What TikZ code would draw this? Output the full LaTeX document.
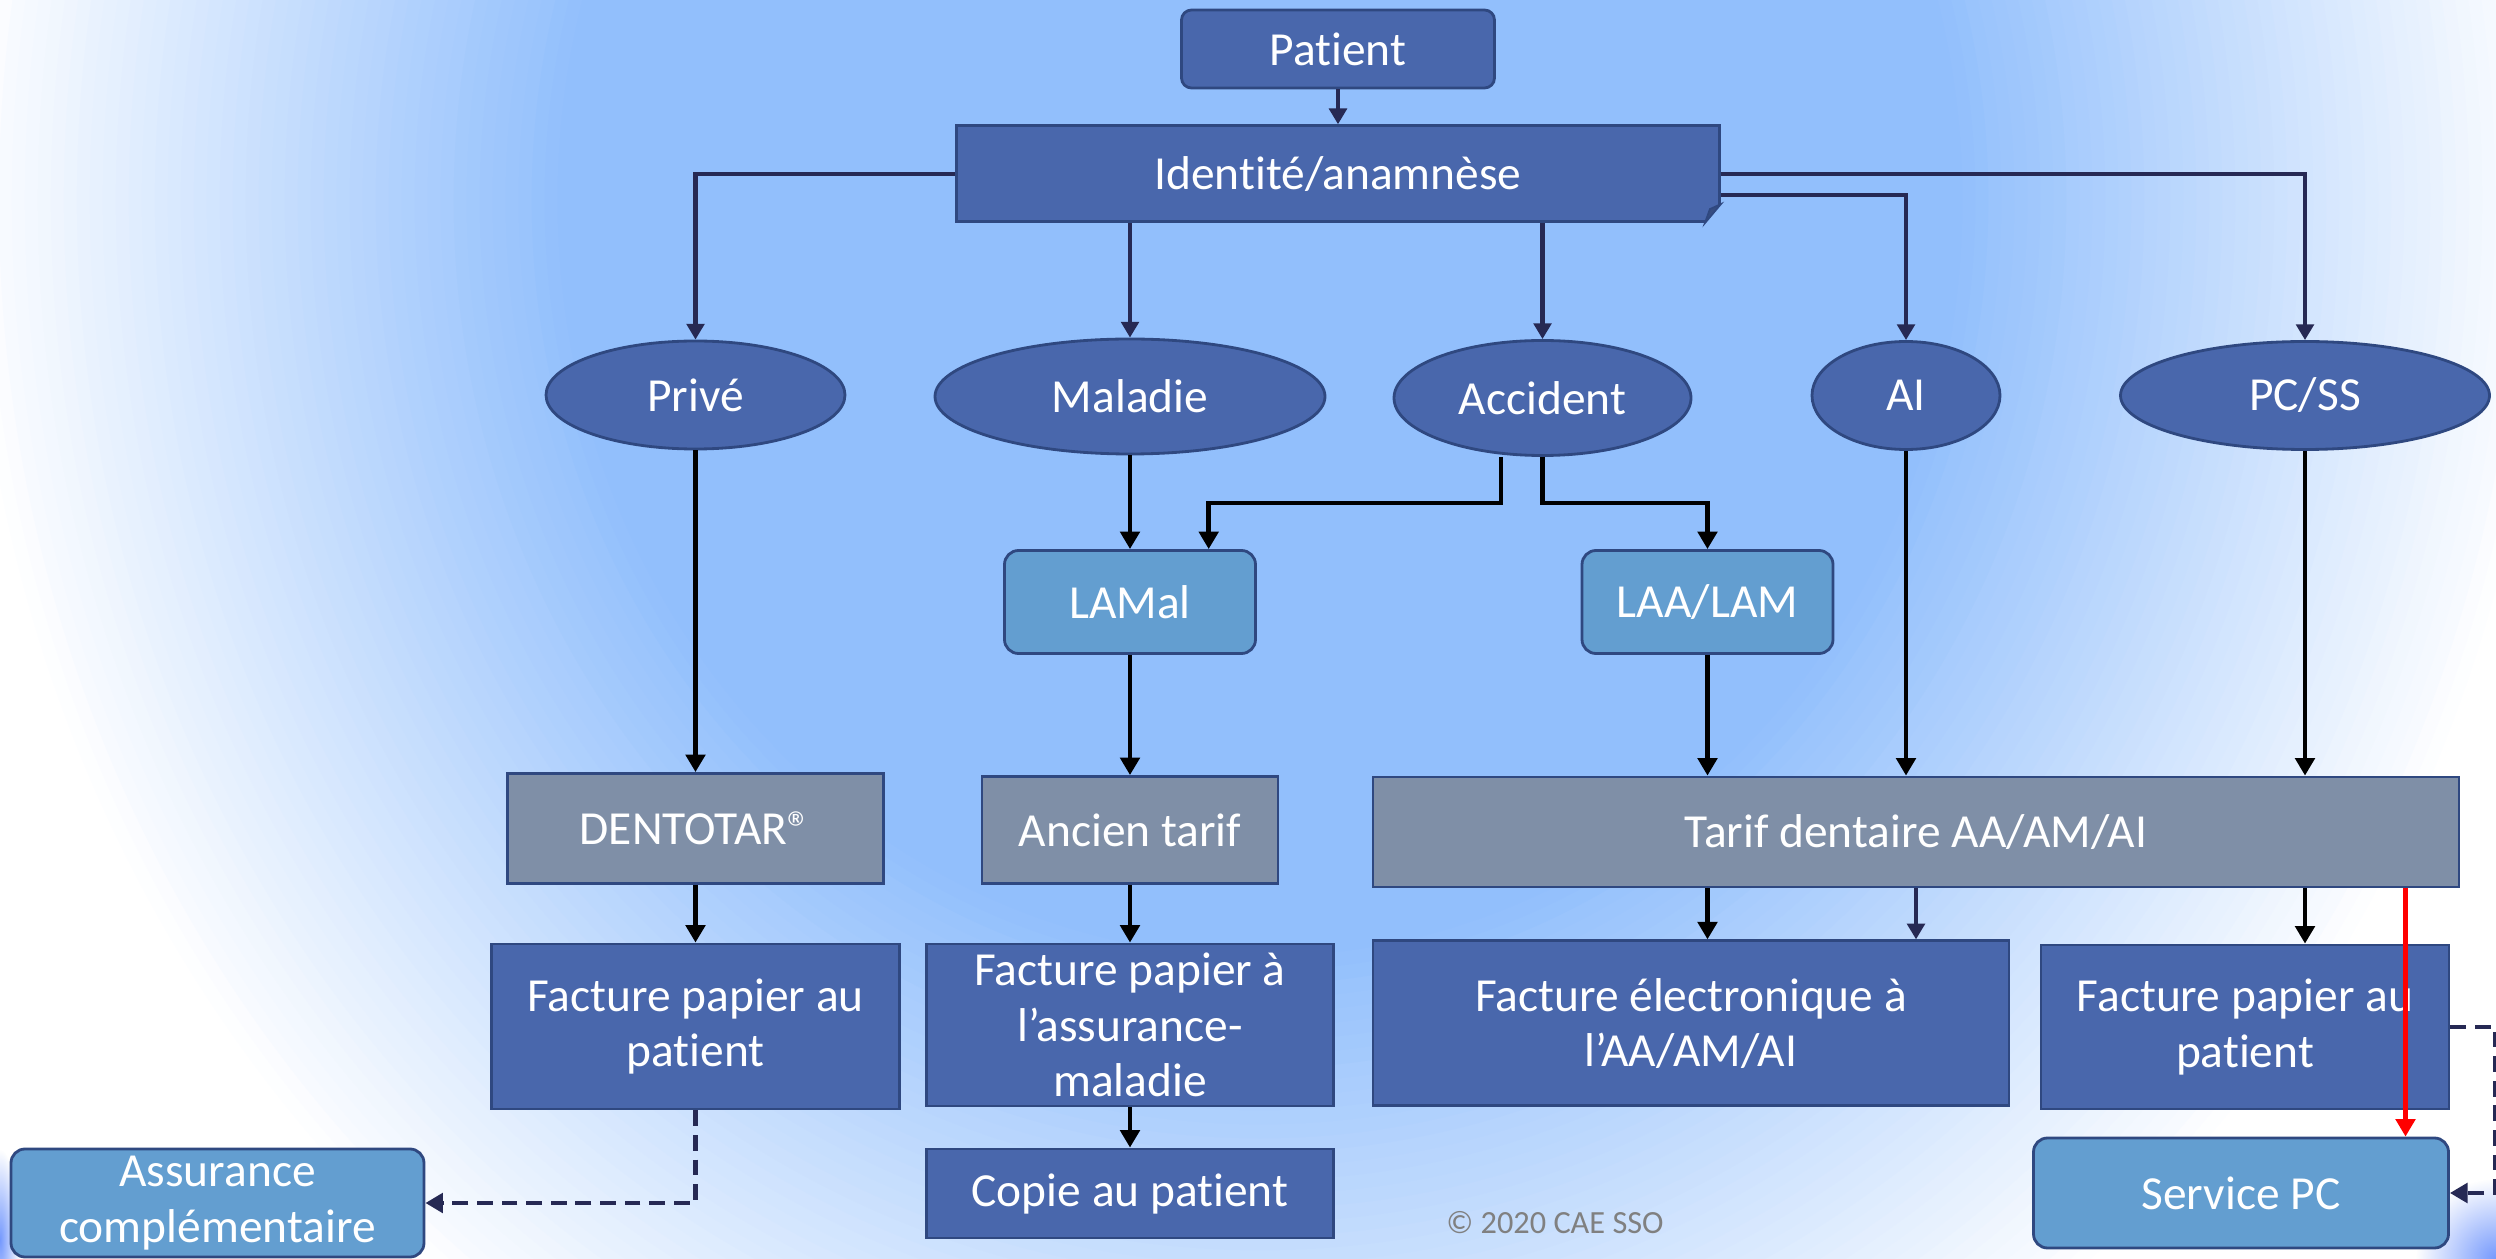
\documentclass[tikz,border=0pt]{standalone}
\usepackage{fontspec}
\setmainfont{Carlito}[Ligatures=NoCommon]
\usetikzlibrary{shapes.geometric,arrows.meta,fadings}

\definecolor{bgblue}{RGB}{146,191,252}
\definecolor{boxblue}{RGB}{73,103,172}
\definecolor{boxedge}{RGB}{47,72,128}
\definecolor{lawblue}{RGB}{99,158,208}
\definecolor{tarifgray}{RGB}{127,143,167}
\definecolor{navy}{RGB}{38,41,84}

\tikzfading[name=glowfade, inner color=transparent!0, outer color=transparent!100]

\tikzset{
  card/.style={draw=boxedge, line width=0.8pt, text=white, align=center,
    inner sep=0pt, font=\fontsize{13.5}{15.8}\selectfont},
  darkbox/.style={card, fill=boxblue},
  lawbox/.style={card, fill=lawblue, rounded corners=0.14cm},
  tarifbox/.style={card, fill=tarifgray},
  oval/.style={card, fill=boxblue, ellipse},
  navyarrow/.style={navy, line width=1.2pt, -{Triangle[width=5pt,length=4.5pt]}},
  blackarrow/.style={black, line width=1.4pt, -{Triangle[width=5.5pt,length=5pt]}},
  redarrow/.style={red, line width=1.4pt, -{Triangle[width=5.5pt,length=5pt]}},
  dasharrow/.style={navy, line width=1.4pt, dash pattern=on 4.5pt off 2.5pt, -{Triangle[width=5.5pt,length=5pt]}},
}

\begin{document}
\begin{tikzpicture}
  \useasboundingbox (0,0) rectangle (24.96,-12.59);
  % the background, white at the rim and blue in the middle
  \begin{scope}
    \clip (0,0) rectangle (24.96,-12.59);
    \fill[white] (0,0) rectangle (24.96,-12.59);
    \foreach \i in {0,...,46} {
      \pgfmathsetmacro{\f}{1-0.01*\i}
      \pgfmathtruncatemacro{\t}{round(100*\i/46)}
      \fill[bgblue!\t!white] (12.6,-2.0) ellipse [x radius=13*\f, y radius=14*\f];
    }
    \fill[bgblue!80!blue, path fading=glowfade] (24.96,-12.59) circle (0.8);
    \fill[bgblue!80!blue, path fading=glowfade] (0,-12.4) ellipse (0.2 and 0.9);
  \end{scope}

  % patient and anamnesis
  \node[darkbox, rounded corners=0.1cm, minimum width=3.13cm, minimum height=0.78cm] (patient) at (13.38,-0.49) {Patient};
  \node[darkbox, minimum width=7.63cm, minimum height=0.96cm] (ident) at (13.38,-1.737) {Identité/anamnèse};
  % the folded corner of the anamnesis box
  \fill[bgblue] (ident.south east) -- ++(-0.16,0) -- ++(0.16,0.19) -- cycle;
  \filldraw[fill=boxblue!75!black, draw=boxedge, line width=0.5pt] ([xshift=-0.16cm]ident.south east) -- ++(0.05,0.14) -- ++(0.11,0.05) -- cycle;

  % the five cases
  \node[oval, minimum width=2.99cm, minimum height=1.08cm] (prive) at (6.955,-3.95) {Privé};
  \node[oval, minimum width=3.90cm, minimum height=1.15cm] (maladie) at (11.30,-3.965) {Maladie};
  \node[oval, minimum width=2.97cm, minimum height=1.15cm] (accident) at (15.425,-3.98) {Accident};
  \node[oval, minimum width=1.88cm, minimum height=1.08cm] (ai) at (19.06,-3.955) {AI};
  \node[oval, minimum width=3.69cm, minimum height=1.08cm] (pcss) at (23.05,-3.955) {PC/SS};

  % the laws
  \node[lawbox, minimum width=2.51cm, minimum height=1.03cm] (lamal) at (11.30,-6.02) {LAMal};
  \node[lawbox, minimum width=2.51cm, minimum height=1.03cm] (laa) at (17.075,-6.02) {LAA/LAM};

  % the tariffs
  \node[tarifbox, minimum width=3.76cm, minimum height=1.10cm] (dentotar) at (6.955,-8.285) {DENTOTAR®};
  \node[tarifbox, minimum width=2.96cm, minimum height=1.07cm] (ancien) at (11.30,-8.30) {Ancien tarif};
  \node[tarifbox, minimum width=10.86cm, minimum height=1.10cm] (tarif) at (19.16,-8.32) {Tarif dentaire AA/AM/AI};

  % the invoices
  \node[darkbox, minimum width=4.08cm, minimum height=1.65cm] (facpl) at (6.955,-10.265) {Facture papier au\\patient};
  \node[darkbox, minimum width=4.07cm, minimum height=1.62cm] (facam) at (11.30,-10.25) {Facture papier à\\l’assurance-\\maladie};
  \node[darkbox, minimum width=6.36cm, minimum height=1.65cm] (facel) at (16.91,-10.233) {Facture électronique à\\l’AA/AM/AI};
  \node[darkbox, minimum width=4.08cm, minimum height=1.64cm] (facpr) at (22.45,-10.27) {Facture papier au\\patient};

  % the receivers
  \node[lawbox, minimum width=4.13cm, minimum height=1.08cm] (assur) at (2.175,-12.03) {Assurance\\complémentaire};
  \node[darkbox, minimum width=4.07cm, minimum height=0.89cm] (copie) at (11.30,-11.935) {Copie au patient};
  \node[lawbox, minimum width=4.15cm, minimum height=1.10cm] (servpc) at (22.41,-11.93) {Service PC};
  \node[text=gray, font=\fontsize{9.2}{11}\selectfont] (copyright) at (15.55,-12.23) {© 2020 CAE SSO};

  % helper points for the bends
  \coordinate (split) at (0,-5.03);
  \coordinate (redx) at (24.055,0);
  \coordinate (rim) at (24.95,0);

  % from the patient to the five cases
  \draw[navyarrow] (patient) -- (ident);
  \draw[navyarrow] (ident.west) -| (prive.north);
  \draw[navyarrow] (ident.south -| maladie.north) -- (maladie.north);
  \draw[navyarrow] (ident.south -| accident.north) -- (accident.north);
  \draw[navyarrow] ([yshift=-0.21cm]ident.east) -| (ai.north);
  \draw[navyarrow] (ident.east) -| (pcss.north);

  % straight black arrows
  \foreach \from/\to in {prive/dentotar, maladie/lamal, lamal/ancien, dentotar/facpl, ancien/facam, facam/copie}
    \draw[blackarrow] (\from) -- (\to);

  % accident splits into both laws
  \draw[blackarrow] ([xshift=-0.415cm]accident.south) -- ([xshift=-0.415cm]accident.south |- split) -| ([xshift=0.787cm]lamal.north);
  \draw[blackarrow] (accident.south) -- (accident.south |- split) -| (laa.north);

  % into the big tariff
  \draw[blackarrow] (laa) -- (laa |- tarif.north);
  \draw[blackarrow] (ai) -- (ai |- tarif.north);
  \draw[blackarrow] (pcss) -- (pcss |- tarif.north);

  % out of the big tariff
  \draw[blackarrow] (tarif.south -| laa) -- (facel.north -| laa);
  \draw[navyarrow, line width=1.4pt] (tarif.south) -- (tarif.south |- facel.north);
  \draw[blackarrow] (tarif.south -| pcss) -- (facpr.north -| pcss);
  \draw[redarrow] (tarif.south -| redx) -- (servpc.north -| redx);

  % dashed copies
  \draw[dasharrow] (facpl.south) |- (assur.east);
  \draw[dasharrow] (facpr.east) -- (facpr.east -| rim) |- (servpc.east);
\end{tikzpicture}
\end{document}
